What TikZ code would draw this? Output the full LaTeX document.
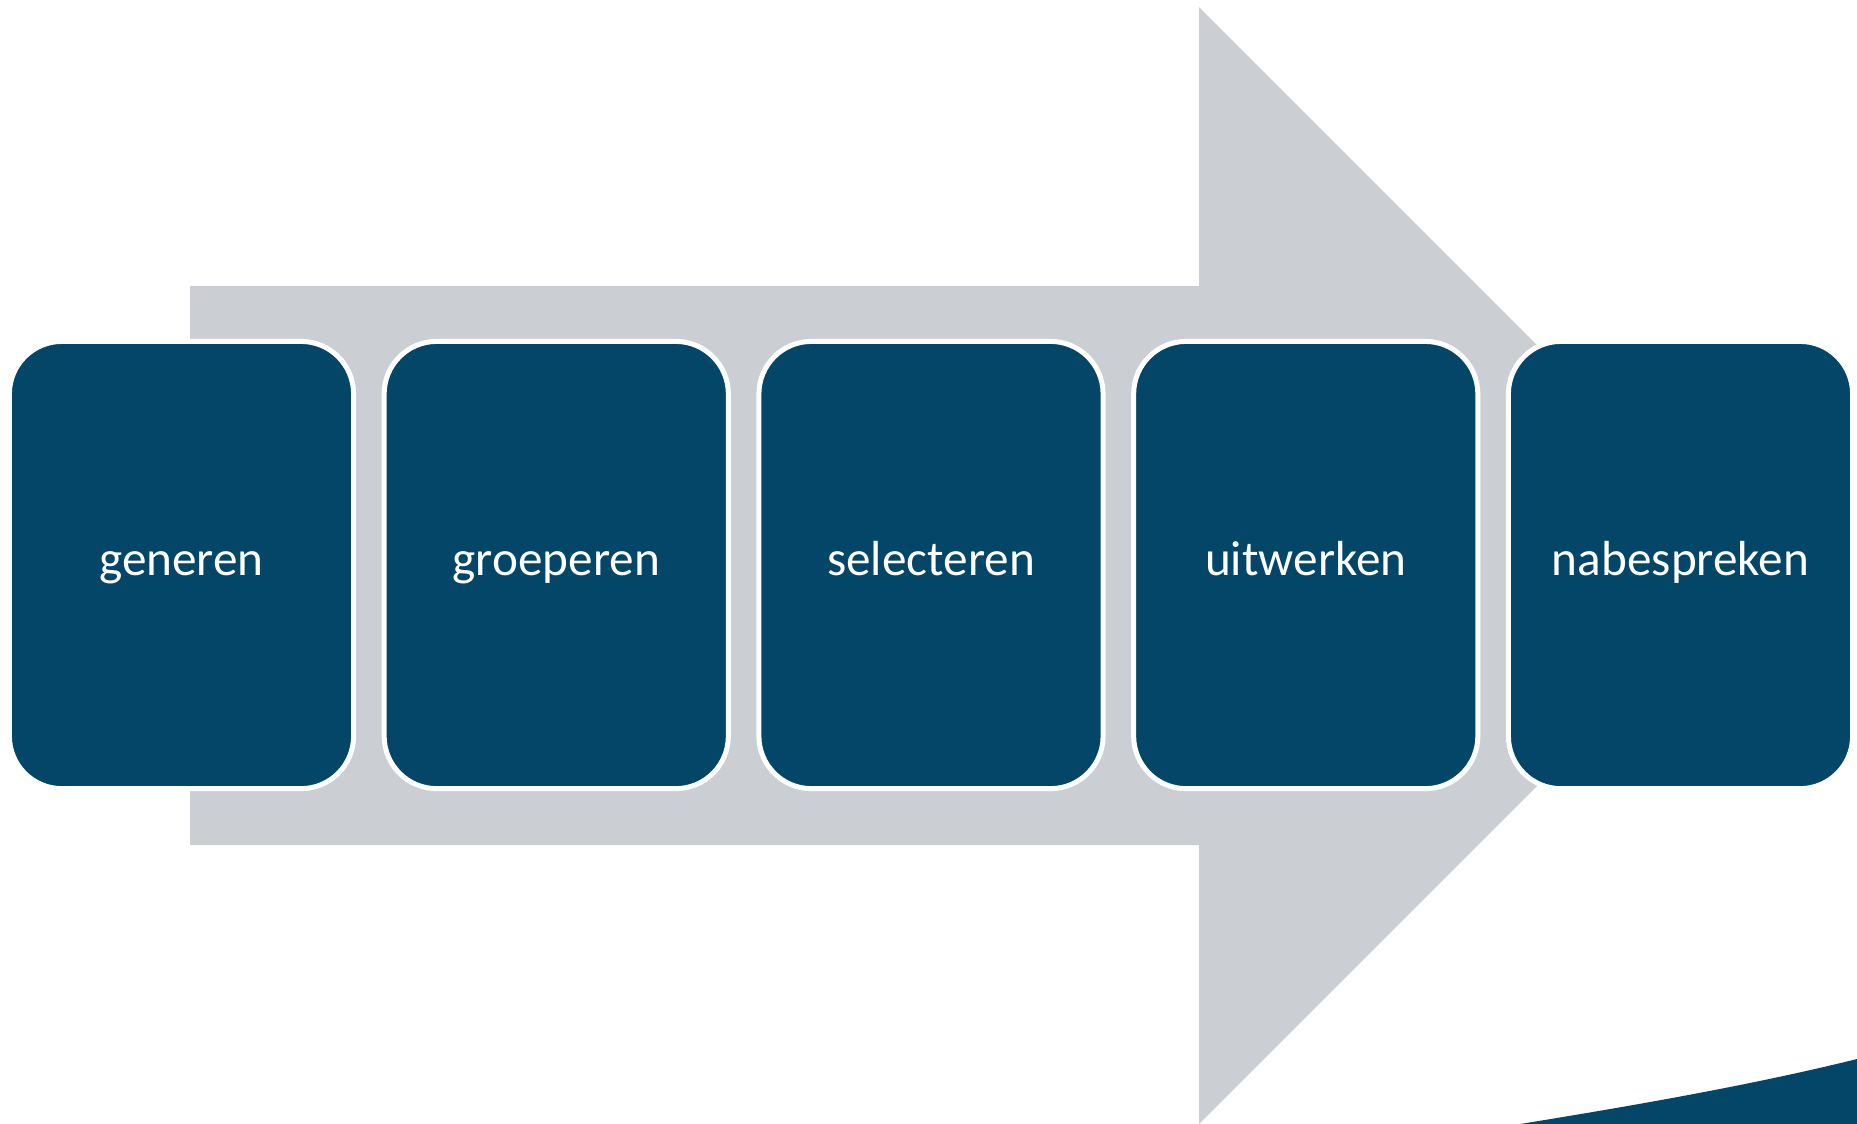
\documentclass[tikz,border=0pt]{standalone}
\usepackage{fontspec}
\setmainfont{Carlito}
\definecolor{boxblue}{RGB}{3,70,103}
\definecolor{arrowgray}{RGB}{203,206,211}
\begin{document}
\begin{tikzpicture}[x=0.01cm,y=-0.01cm,
  stage/.style={rectangle, rounded corners=0.525cm, fill=boxblue, draw=white,
    line width=0.05cm, minimum width=3.44cm, minimum height=4.47cm, inner sep=0pt,
    text height=0.3cm, text depth=0.1cm,
    text=white, font=\fontsize{14pt}{16pt}\selectfont}]
\useasboundingbox (0,0) rectangle (1857,1123);
\fill[arrowgray] (190,286) -- (1199,286) -- (1199,7) -- (1757.5,565.5)
  -- (1199,1124) -- (1199,845) -- (190,845) -- cycle;
\fill[boxblue] (1520,1124) .. controls (1650,1103) and (1760,1083) .. (1857,1059)
  -- (1857,1124) -- cycle;
\node[stage] (s1) at (181.5,565) {generen};
\node[stage] (s2) at (556.25,565) {groeperen};
\node[stage] (s3) at (931,565) {selecteren};
\node[stage] (s4) at (1305.75,565) {uitwerken};
\node[stage] (s5) at (1680.5,565) {nabespreken};
\end{tikzpicture}
\end{document}
